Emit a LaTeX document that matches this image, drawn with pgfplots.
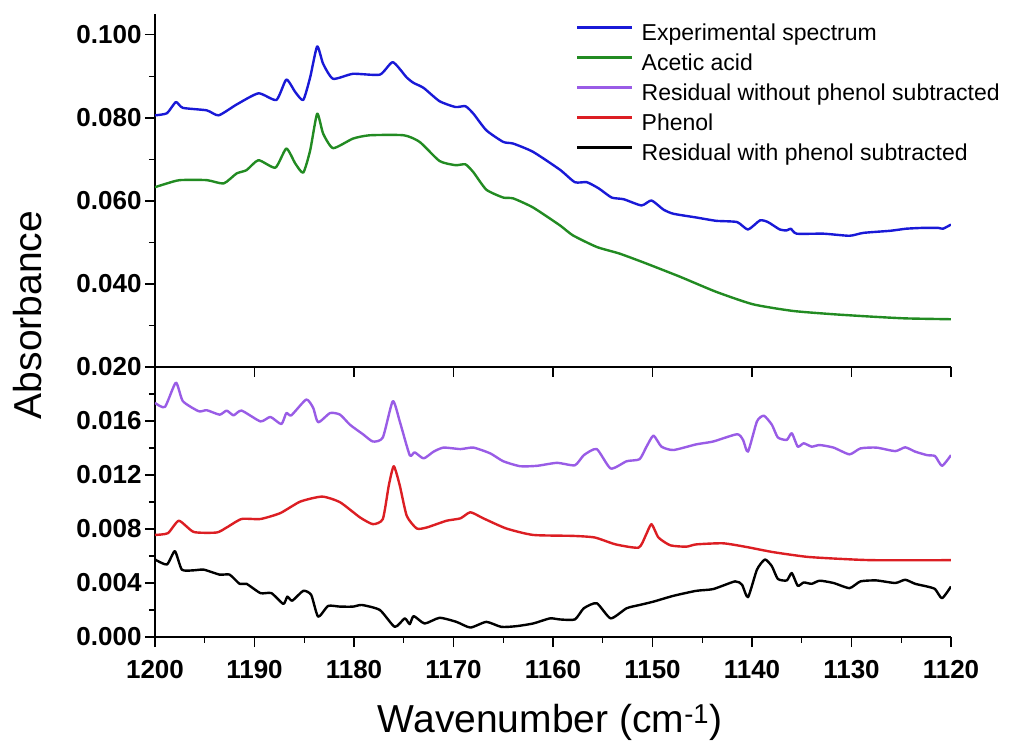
\documentclass[border=0pt]{standalone}
\usepackage{pgfplots}
\pgfplotsset{compat=1.18}
\usepackage{fontspec}
\setmainfont{Liberation Sans}
\definecolor{cblue}{RGB}{25,25,215}
\definecolor{cgreen}{RGB}{34,139,34}
\definecolor{cpurple}{RGB}{153,92,230}
\definecolor{cred}{RGB}{220,30,35}
\pgfplotsset{
  common/.style={
    scale only axis, width=796bp,
    xmin=1120, xmax=1200, x dir=reverse,
    axis lines*=left,
    axis line style={-, line width=1.6bp},
    every tick/.style={black, line width=1.4bp},
    tick align=outside,
    major tick length=10bp, minor tick length=6bp,
    scaled y ticks=false, scaled x ticks=false,
    /pgf/number format/assume math mode=true,
    tick label style={font=\bfseries\fontsize{26bp}{26bp}\selectfont},
    yticklabel style={/pgf/number format/.cd, fixed, fixed zerofill, precision=3},
    xticklabel style={yshift=-10bp, /pgf/number format/.cd, set thousands separator={}},
    xtick={1120,1130,1140,1150,1160,1170,1180,1190,1200},
    anchor=south west,
    every axis plot/.append style={line width=2.4bp, smooth, tension=0.35, line join=round},
  },
}
\begin{document}
\begin{tikzpicture}
\useasboundingbox (0,0) rectangle (1018bp,741bp);
% bottom panel
\begin{axis}[common, at={(155bp,104bp)}, height=270bp,
  ymin=0, ymax=0.020,
  ytick={0,0.004,0.008,0.012,0.016},
  minor ytick={0.002,0.006,0.010,0.014,0.018},
  minor x tick num=1,
]
\addplot[cpurple] coordinates {
(1200,0.01734)(1199,0.01704)(1197.9,0.01884)(1197.2,0.01747)(1195.6,0.01672)(1194.8,0.01680)
(1193.5,0.01647)(1192.8,0.01677)(1192.1,0.01642)(1191.3,0.01677)(1189.4,0.01597)(1188.4,0.01630)
(1187.3,0.01577)(1186.8,0.01659)(1186.3,0.01642)(1184.8,0.01759)(1184.1,0.01697)(1183.6,0.01590)
(1182.4,0.01659)(1181.4,0.01647)(1180.4,0.01572)(1179.1,0.01502)(1178.1,0.01448)(1177.1,0.01478)
(1176.1,0.01747)(1175.4,0.01597)(1174.4,0.01347)(1173.9,0.01368)(1173.0,0.01323)(1172.0,0.01373)
(1171.0,0.01403)(1169.3,0.01392)(1168.0,0.01403)(1166.3,0.01360)(1165.0,0.01302)(1163.3,0.01265)
(1161.6,0.01268)(1159.6,0.01290)(1157.8,0.01272)(1156.9,0.01347)(1155.6,0.01392)(1154.2,0.01248)
(1152.6,0.01302)(1151.3,0.01317)(1150.6,0.01410)(1149.9,0.01492)(1149.1,0.01410)(1147.9,0.01385)
(1145.6,0.01427)(1143.9,0.01448)(1141.5,0.01502)(1140.9,0.01460)(1140.4,0.01373)(1139.5,0.01597)
(1138.8,0.01639)(1138.0,0.01572)(1137.4,0.01478)(1136.5,0.01460)(1136.0,0.01510)(1135.4,0.01410)
(1134.8,0.01435)(1134.0,0.01410)(1133.2,0.01422)(1131.8,0.01403)(1130.2,0.01353)(1129.1,0.01397)
(1127.5,0.01403)(1125.6,0.01377)(1124.6,0.01405)(1123.6,0.01373)(1122.4,0.01347)(1121.6,0.01340)
(1120.9,0.01268)(1120,0.01347)
};
\addplot[cred] coordinates {
(1200,0.00756)(1198.7,0.00769)(1197.6,0.00861)(1196.1,0.00778)(1193.8,0.00774)(1192.8,0.00811)
(1191.3,0.00874)(1189.4,0.00874)(1187.4,0.00918)(1185.4,0.01003)(1183.2,0.01040)(1181.4,0.00998)
(1179.4,0.00886)(1178.1,0.00836)(1177.1,0.00874)(1176.5,0.01123)(1176.0,0.01265)(1175.4,0.01123)
(1174.7,0.00898)(1173.7,0.00804)(1172.7,0.00811)(1170.7,0.00861)(1169.3,0.00879)(1168.3,0.00924)
(1167.0,0.00879)(1164.7,0.00804)(1162.0,0.00756)(1158.0,0.00749)(1155.8,0.00737)(1153.7,0.00686)
(1151.4,0.00662)(1150.7,0.00749)(1150.1,0.00836)(1149.4,0.00737)(1148.2,0.00679)(1146.6,0.00669)
(1145.6,0.00686)(1142.9,0.00694)(1140.5,0.00666)(1137.9,0.00629)(1134.5,0.00594)(1131.2,0.00579)
(1127.8,0.00569)(1120,0.00569)
};
\addplot[black] coordinates {
(1200,0.00574)(1198.8,0.00537)(1198.0,0.00636)(1197.3,0.00499)(1196.1,0.00494)(1195.1,0.00499)
(1193.5,0.00462)(1192.5,0.00462)(1191.5,0.00394)(1190.8,0.00394)(1189.4,0.00325)(1188.3,0.00325)
(1187.1,0.00245)(1186.7,0.00299)(1186.2,0.00269)(1185.1,0.00342)(1184.3,0.00312)(1183.6,0.00150)
(1182.6,0.00230)(1181.4,0.00225)(1180.1,0.00225)(1179.2,0.00237)(1177.4,0.00200)(1175.9,0.00075)
(1174.9,0.00138)(1174.4,0.00095)(1174.0,0.00155)(1172.9,0.00100)(1171.4,0.00142)(1169.7,0.00112)
(1168.3,0.00070)(1166.7,0.00112)(1165.2,0.00075)(1163.7,0.00080)(1162.0,0.00100)(1160.3,0.00138)
(1159.3,0.00130)(1157.8,0.00130)(1156.9,0.00213)(1155.6,0.00250)(1154.2,0.00138)(1152.6,0.00213)
(1151.3,0.00237)(1149.9,0.00262)(1147.9,0.00305)(1145.6,0.00342)(1143.9,0.00355)(1141.7,0.00412)
(1141.0,0.00387)(1140.4,0.00295)(1139.5,0.00499)(1138.7,0.00574)(1138.0,0.00524)(1137.4,0.00430)
(1136.5,0.00419)(1136.0,0.00474)(1135.4,0.00379)(1134.8,0.00404)(1134.0,0.00394)(1133.2,0.00417)
(1131.8,0.00400)(1130.2,0.00362)(1129.1,0.00412)(1127.5,0.00419)(1125.6,0.00400)(1124.6,0.00424)
(1123.6,0.00394)(1122.4,0.00374)(1121.6,0.00355)(1120.9,0.00287)(1120,0.00374)
};
\end{axis}
% top panel
\begin{axis}[common, at={(155bp,374bp)}, height=353bp,
  ymin=0.020, ymax=0.105,
  ytick={0.02,0.04,0.06,0.08,0.10},
  minor ytick={0.03,0.05,0.07,0.09},
  xticklabels={},
  legend style={draw=none, fill=none, at={(0.529,0.977)}, anchor=north west,
    inner sep=0pt, row sep=6bp,
    font=\fontsize{23bp}{23bp}\selectfont,
    nodes={inner sep=0pt, text height=18bp, text depth=6bp},
    /tikz/every odd column/.style={column sep=8bp}},
  legend cell align=left,
  legend image code/.code={\draw[#1, line width=2.4bp] (0bp,7bp) -- (55bp,7bp);},
]
\addplot[cblue] coordinates {
(1200,0.0806)(1198.8,0.0811)(1197.9,0.0838)(1197.2,0.0824)(1194.8,0.0818)(1193.6,0.0806)
(1191.8,0.0832)(1189.6,0.0859)(1187.8,0.0843)(1186.8,0.0892)(1185.9,0.0862)(1185.1,0.0843)
(1184.4,0.0898)(1183.7,0.0972)(1183.1,0.0930)(1182.1,0.0894)(1180.1,0.0906)(1177.4,0.0904)
(1176.1,0.0934)(1174.7,0.0897)(1174.0,0.0884)(1173.0,0.0872)(1171.4,0.0840)(1169.8,0.0826)
(1168.8,0.0828)(1168.0,0.0810)(1166.7,0.0770)(1165.0,0.0742)(1164.0,0.0738)(1162.0,0.0718)
(1159.3,0.0675)(1157.8,0.0645)(1156.6,0.0645)(1155.4,0.0630)(1154.1,0.0608)(1152.9,0.0604)
(1151.1,0.0589)(1150.1,0.0601)(1148.9,0.0579)(1147.9,0.0569)(1145.6,0.0560)(1143.6,0.0552)
(1141.5,0.0549)(1140.4,0.0531)(1139.2,0.0553)(1138.4,0.0549)(1137.2,0.0531)(1136.5,0.0529)
(1136.1,0.0533)(1135.5,0.0521)(1132.8,0.0521)(1130.2,0.0516)(1128.8,0.0523)(1126.1,0.0528)
(1124.5,0.0533)(1122.8,0.0535)(1121.3,0.0535)(1120.8,0.0533)(1120.0,0.0543)
};
\addlegendentry{Experimental spectrum}
\addplot[cgreen] coordinates {
(1200,0.0633)(1198.8,0.0642)(1197.5,0.0650)(1194.8,0.0650)(1193.1,0.0642)(1191.8,0.0666)
(1190.8,0.0674)(1189.6,0.0698)(1187.9,0.0680)(1186.8,0.0726)(1185.9,0.0690)(1185.1,0.0668)
(1184.4,0.0722)(1183.7,0.0810)(1183.1,0.0762)(1182.1,0.0727)(1180.1,0.0750)(1178.4,0.0758)
(1175.0,0.0758)(1173.4,0.0742)(1171.4,0.0696)(1169.8,0.0686)(1168.8,0.0688)(1168.0,0.0669)
(1166.7,0.0627)(1165.0,0.0608)(1164.0,0.0606)(1162.0,0.0584)(1159.3,0.0541)(1158.0,0.0517)
(1155.6,0.0489)(1153.3,0.0473)(1150.6,0.0449)(1147.2,0.0417)(1143.6,0.0381)(1139.9,0.0351)
(1135.9,0.0335)(1131.8,0.0327)(1127.8,0.0321)(1124.5,0.0317)(1120,0.0315)
};
\addlegendentry{Acetic acid}
\addlegendimage{cpurple}
\addlegendentry{Residual without phenol subtracted}
\addlegendimage{cred}
\addlegendentry{Phenol}
\addlegendimage{black}
\addlegendentry{Residual with phenol subtracted}
\end{axis}
\node[rotate=90, font=\fontsize{39bp}{39bp}\selectfont] at (28bp,426bp) {Absorbance};
\node[anchor=base, font=\fontsize{39bp}{39bp}\selectfont] at (550bp,9bp) {Wavenumber (cm\textsuperscript{-1})};
\end{tikzpicture}
\end{document}
